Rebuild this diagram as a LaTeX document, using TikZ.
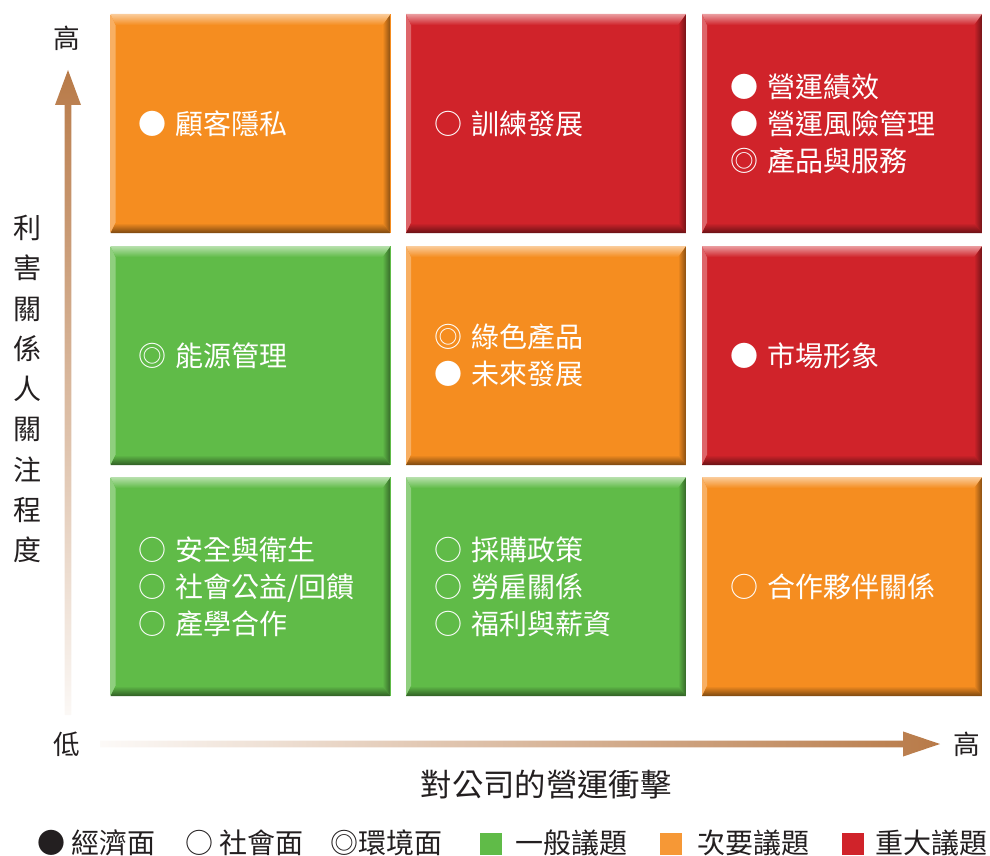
\documentclass[tikz,border=0pt]{standalone}
\usepackage{fontspec}
\setmainfont{Noto Sans CJK TC}
\usetikzlibrary{positioning}

\definecolor{issueorange}{RGB}{245,141,32}
\definecolor{issuered}{RGB}{208,35,42}
\definecolor{issuegreen}{RGB}{96,187,72}
\definecolor{axisbrown}{RGB}{184,122,72}
\definecolor{textdark}{RGB}{35,31,32}

\tikzset{
  issue/.style={fill=#1, minimum width=210pt, minimum height=164.25pt,
    text width=168pt, inner xsep=21pt, inner ysep=0pt, align=left,
    text=white, font=\fontsize{21}{27.75}\selectfont,
    path picture={
      % left light edge
      \shade[left color=#1!70!white, right color=#1]
        (path picture bounding box.north west) -- (path picture bounding box.south west)
        -- ([xshift=3.75pt,yshift=7.5pt]path picture bounding box.south west)
        -- ([xshift=3.75pt,yshift=-8.25pt]path picture bounding box.north west) -- cycle;
      % right dark edge
      \shade[left color=#1, right color=#1!55!black]
        (path picture bounding box.north east) -- (path picture bounding box.south east)
        -- ([xshift=-6pt,yshift=7.5pt]path picture bounding box.south east)
        -- ([xshift=-6pt,yshift=-8.25pt]path picture bounding box.north east) -- cycle;
      % top light bevel
      \shade[top color=#1!45!white, bottom color=#1]
        (path picture bounding box.north west) -- (path picture bounding box.north east)
        -- ([xshift=-6pt,yshift=-8.25pt]path picture bounding box.north east)
        -- ([xshift=3.75pt,yshift=-8.25pt]path picture bounding box.north west) -- cycle;
      % bottom dark bevel
      \shade[top color=#1, bottom color=#1!50!black]
        (path picture bounding box.south west) -- (path picture bounding box.south east)
        -- ([xshift=-6pt,yshift=7.5pt]path picture bounding box.south east)
        -- ([xshift=3.75pt,yshift=7.5pt]path picture bounding box.south west) -- cycle;
    }},
  axislabel/.style={text=textdark, inner sep=0pt, font=\fontsize{20}{20}\selectfont},
  legendtext/.style={text=textdark, inner sep=0pt, anchor=west, font=\fontsize{21}{21}\selectfont},
  legendkey/.style={fill=#1, minimum width=16.5pt, minimum height=17pt, inner sep=0pt},
}

\begin{document}
\begin{tikzpicture}[x=0.75pt, y=-0.75pt]
    \useasboundingbox (0,0) rectangle (990,856);

    % Define coordinates
    \coordinate (yfoot) at (68,715);
    \coordinate (ytip) at (68,70);
    \coordinate (xfoot) at (100,744);
    \coordinate (xtip) at (940,744);

    % Top row
    \node[issue=issueorange] (privacy) at (250.5,123.5) {● 顧客隱私};
    \node[issue=issuered] (training) at (546,123.5) {○ 訓練發展};
    \node[issue=issuered] (operation) at (842,123.5) {● 營運績效\\● 營運風險管理\\◎ 產品與服務};

    % Middle row
    \node[issue=issuegreen] (energy) at (250.5,355.5) {◎ 能源管理};
    \node[issue=issueorange] (future) at (546,355.5) {◎ 綠色產品\\● 未來發展};
    \node[issue=issuered] (market) at (842,355.5) {● 市場形象};

    % Bottom row
    \node[issue=issuegreen] (safety) at (250.5,586.5) {○ 安全與衛生\\○ 社會公益/回饋\\○ 產學合作};
    \node[issue=issuegreen] (purchase) at (546,586.5) {○ 採購政策\\○ 勞雇關係\\○ 福利與薪資};
    \node[issue=issueorange] (partner) at (842,586.5) {○ 合作夥伴關係};

    % Vertical axis arrow
    \shade[top color=axisbrown, bottom color=axisbrown!5]
      ([xshift=-2.6pt]yfoot) -- ([xshift=-2.6pt,yshift=-26.25pt]ytip)
      -- ([xshift=-9.75pt,yshift=-26.25pt]ytip) -- (ytip)
      -- ([xshift=9.75pt,yshift=-26.25pt]ytip) -- ([xshift=2.6pt,yshift=-26.25pt]ytip)
      -- ([xshift=2.6pt]yfoot) -- cycle;

    % Horizontal axis arrow
    \shade[left color=axisbrown!4, right color=axisbrown]
      ([yshift=2.6pt]xfoot) -- ([xshift=-27.75pt,yshift=2.6pt]xtip)
      -- ([xshift=-27.75pt,yshift=9.4pt]xtip) -- (xtip)
      -- ([xshift=-27.75pt,yshift=-9.4pt]xtip) -- ([xshift=-27.75pt,yshift=-2.6pt]xtip)
      -- ([yshift=-2.6pt]xfoot) -- cycle;

    % Axis labels
    \node[axislabel] (yhigh) at (67,38) {高};
    \node[axislabel] (low) at (67,744) {低};
    \node[axislabel] (xhigh) at (967,744) {高};
    \node[axislabel, align=center, font=\fontsize{21}{30.2}\selectfont] (ytitle) at (27,389)
      {利\\害\\關\\係\\人\\關\\注\\程\\度};
    \node[axislabel, font=\fontsize{23.5}{23.5}\selectfont] (xtitle) at (546,785) {對公司的營運衝擊};

    % Legend
    \node[legendtext] (leco) at (37,843) {● 經濟面};
    \node[legendtext] (lsoc) at (185,843) {○ 社會面};
    \node[legendtext] (lenv) at (330,843) {◎環境面};
    \node[legendkey=issuegreen] (kgen) at (491,844) {};
    \node[legendtext] (lgen) at (515,843) {一般議題};
    \node[legendkey=issueorange!90!white] (kmin) at (671,844) {};
    \node[legendtext] (lmin) at (697,843) {次要議題};
    \node[legendkey=issuered] (kmaj) at (853,844) {};
    \node[legendtext] (lmaj) at (875,843) {重大議題};
\end{tikzpicture}
\end{document}
